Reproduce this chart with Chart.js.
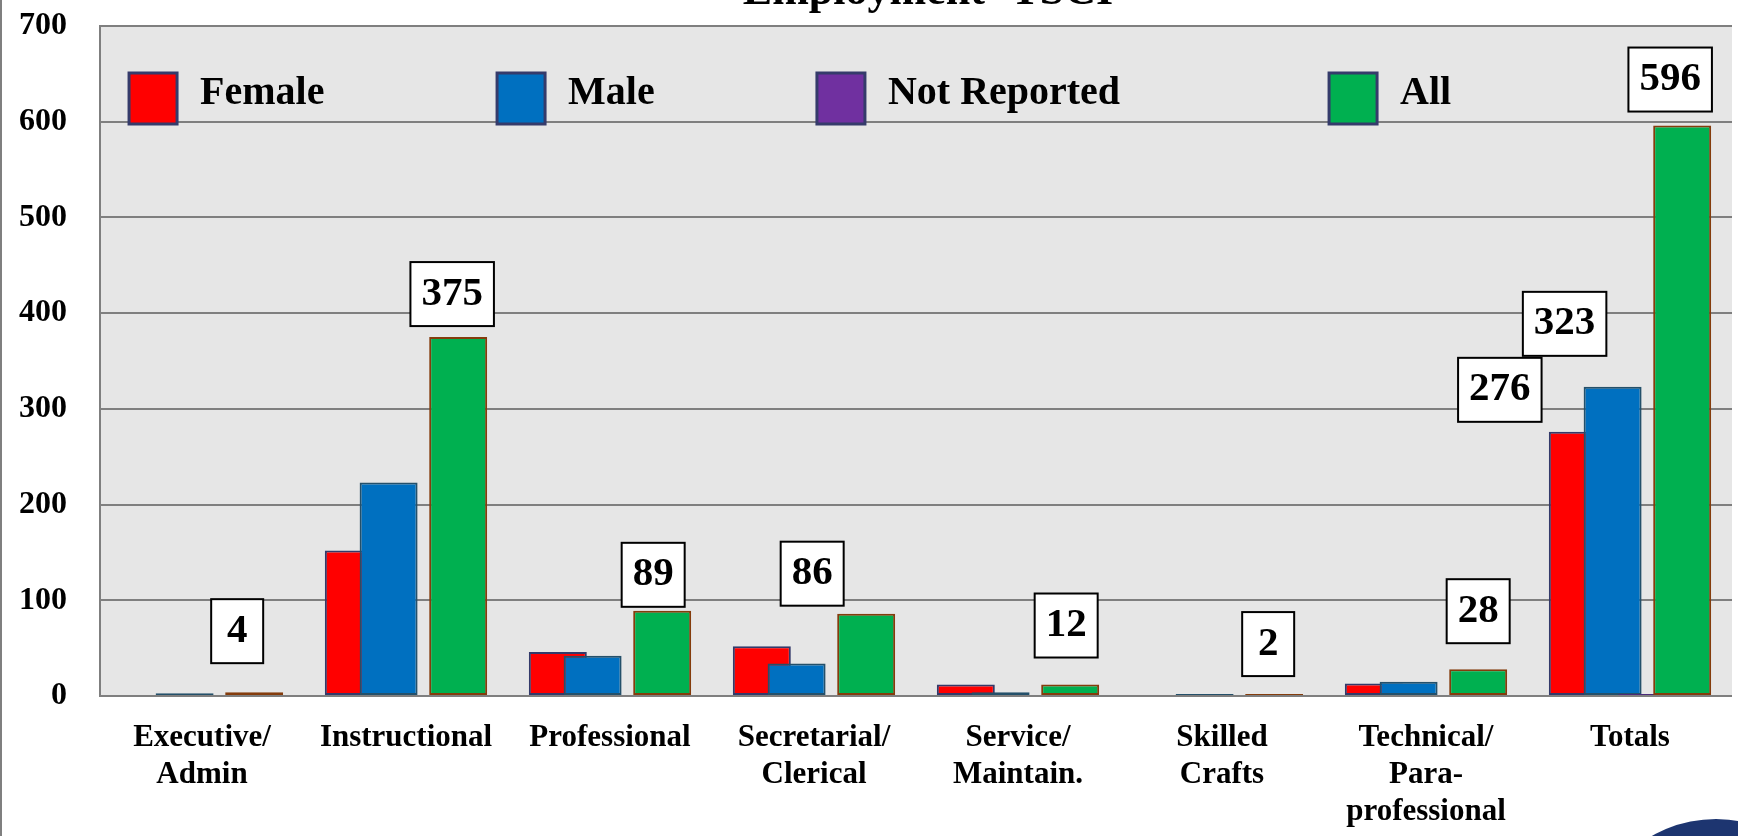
<!DOCTYPE html>
<html><head><meta charset="utf-8">
<script src="https://cdn.jsdelivr.net/npm/chart.js@4.4.0/dist/chart.umd.min.js"></script>
<style>
html,body{margin:0;padding:0;background:#fff;overflow:hidden;}
#wrap{position:relative;width:1738px;height:836px;overflow:hidden;}
#frame{position:absolute;left:0;top:0;width:2px;height:836px;background:#7f7f7f;}
#seal{position:absolute;left:1585px;top:819px;width:262px;height:262px;border-radius:50%;
  background:radial-gradient(circle closest-side, #ffffff 0 72%, #1d3570 73% 100%);}
</style></head>
<body><div id="wrap"><canvas id="c" width="1738" height="836"></canvas><div id="frame"></div><div id="seal"></div></div>
<script>
// ---- data ----
const categories = [['Executive/','Admin'],['Instructional'],['Professional'],['Secretarial/','Clerical'],['Service/','Maintain.'],['Skilled','Crafts'],['Technical/','Para-','professional'],['Totals']];
const female      = [1, 152, 46, 52, 12, 0, 13, 276];
const male        = [3, 223, 42, 34, 4, 2, 15, 323];
const notReported = [0, 0, 1, 0, 1, 0, 0, 2];
const all         = [4, 375, 89, 86, 12, 2, 28, 596];
const seriesNames = ['Female', 'Male', 'Not Reported', 'All'];
const chartTitle  = 'Employment- TSCI';

// ---- styling / layout (not data) ----
const fills   = ['#FF0000', '#0070C0', '#7030A0', '#00B050'];
const borders = ['#333a6a', '#24506a', '#4b2a7a', '#843C0C'];
const FONT = "'Liberation Serif', 'Times New Roman', serif";
// which bars get a boxed value label, and how the box sits relative to its bar
const callouts = [
  {ds:3, cat:0, dx:-17, gap:29}, {ds:3, cat:1, dx:-6, gap:11}, {ds:3, cat:2, dx:-9, gap:4},
  {ds:3, cat:3, dx:-54, gap:8},  {ds:3, cat:4, dx:-4, gap:27}, {ds:3, cat:5, dx:-6, gap:18},
  {ds:3, cat:6, dx:0, gap:26},   {ds:3, cat:7, dx:-12, gap:14},
  {ds:1, cat:7, dx:-48, gap:31}, {ds:0, cat:7, dx:-78, gap:10}
];
const legendSlots = [0.0178, 0.2433, 0.4393, 0.7531];

Chart.defaults.font.family = FONT;
Chart.defaults.color = '#000';

const bgPlugin = {
  id: 'bg',
  beforeDraw(chart) {
    const {ctx, chartArea: a} = chart;
    ctx.save(); ctx.fillStyle = '#E6E6E6';
    ctx.fillRect(a.left, a.top, a.right - a.left, a.bottom - a.top);
    ctx.restore();
  }
};
// draw datasets left-to-right so later series overlap earlier ones
const orderPlugin = {
  id: 'order',
  beforeDatasetsDraw(chart) {
    const metas = chart.getSortedVisibleDatasetMetas().slice().sort((a, b) => a.index - b.index);
    for (const m of metas) {
      if (chart._drawDataset) chart._drawDataset(m); else m.controller.draw();
    }
    return false;
  }
};
const decoPlugin = {
  id: 'deco',
  afterDraw(chart) {
    const {ctx, chartArea: a} = chart;
    ctx.save();
    // title (partly above the visible page)
    ctx.font = 'bold 44px ' + FONT;
    ctx.textAlign = 'center'; ctx.textBaseline = 'alphabetic'; ctx.fillStyle = '#000';
    ctx.fillText(chartTitle, (a.left + a.right) / 2 + 12, 4);
    // legend inside plot
    const w = a.right - a.left;
    chart.data.datasets.forEach((d, i) => {
      const x = a.left + legendSlots[i] * w, y = a.top + 47;
      ctx.fillStyle = d.backgroundColor;
      ctx.fillRect(x, y, 48, 51);
      ctx.lineWidth = 3; ctx.strokeStyle = '#353b6b';
      ctx.strokeRect(x, y, 48, 51);
      ctx.fillStyle = '#000'; ctx.font = 'bold 40px ' + FONT;
      ctx.textAlign = 'left'; ctx.textBaseline = 'alphabetic';
      ctx.fillText(d.label, x + 71, a.top + 78);
    });
    // value callouts
    ctx.font = 'bold 41px ' + FONT;
    for (const c of callouts) {
      const el = chart.getDatasetMeta(c.ds).data[c.cat];
      const txt = String(chart.data.datasets[c.ds].data[c.cat]);
      const tw = ctx.measureText(txt).width;
      const bw = Math.max(tw + 22, 52), bh = 64;
      const cx = el.x + c.dx, bottom = el.y - c.gap;
      ctx.fillStyle = '#fff';
      ctx.fillRect(cx - bw / 2, bottom - bh, bw, bh);
      ctx.lineWidth = 2; ctx.strokeStyle = '#000';
      ctx.strokeRect(cx - bw / 2, bottom - bh, bw, bh);
      ctx.fillStyle = '#000'; ctx.textAlign = 'center'; ctx.textBaseline = 'middle';
      ctx.fillText(txt, cx, bottom - bh / 2);
    }
    ctx.restore();
  }
};

const seriesData = [female, male, notReported, all];
new Chart(document.getElementById('c'), {
  type: 'bar',
  data: {
    labels: categories,
    datasets: seriesNames.map((n, i) => ({
      label: n, data: seriesData[i],
      backgroundColor: fills[i], borderColor: borders[i], borderWidth: 2, borderSkipped: false,
      categoryPercentage: 0.682, barPercentage: 1.667
    }))
  },
  options: {
    responsive: false, animation: false, devicePixelRatio: 1,
    layout: {padding: {top: 26, right: 6, left: 0, bottom: 0}},
    plugins: {legend: {display: false}, title: {display: false}, tooltip: {enabled: false}},
    scales: {
      x: {
        offset: true,
        grid: {display: false, drawTicks: false},
        border: {display: false},
        ticks: {font: {size: 31, weight: 'bold'}, color: '#000', padding: 23, maxRotation: 0, autoSkip: false},
        afterFit(s) { s.height = 140; s.paddingLeft = 0; s.paddingRight = 0; }
      },
      y: {
        min: 0, max: 700,
        ticks: {stepSize: 100, font: {size: 32, weight: 'bold'}, color: '#000', padding: 33},
        grid: {color: '#7f7f7f', lineWidth: 2, drawTicks: false},
        border: {display: true, color: '#7f7f7f', width: 2},
        afterFit(s) { s.width = 100; s.paddingTop = 0; s.paddingBottom = 0; }
      }
    }
  },
  plugins: [bgPlugin, orderPlugin, decoPlugin]
});
</script>
</body></html>
